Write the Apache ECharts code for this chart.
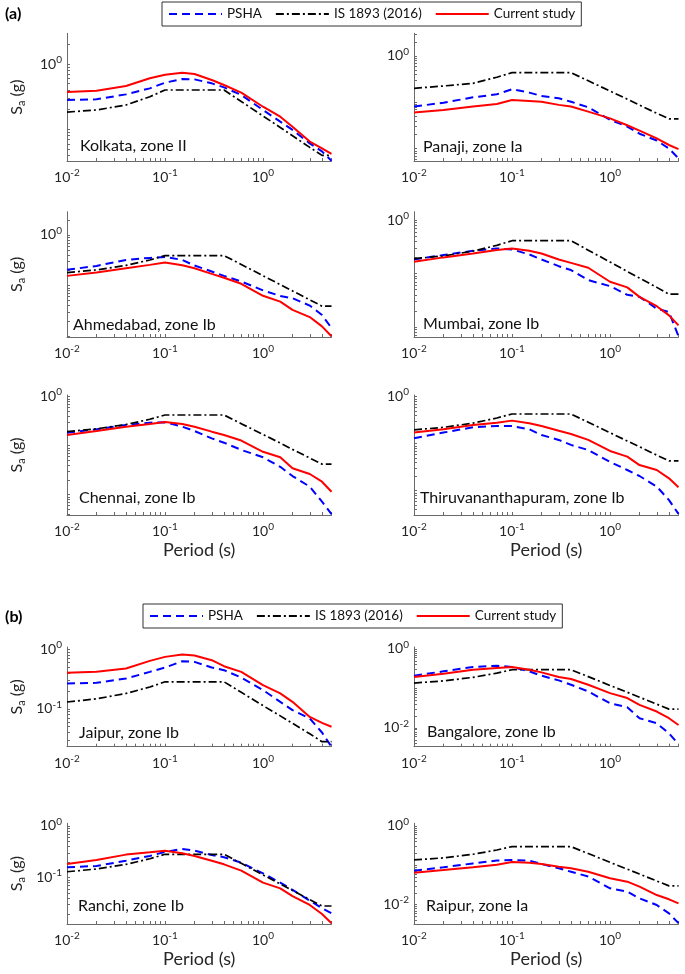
<!DOCTYPE html>
<html><head><meta charset="utf-8">
<script src="https://cdn.jsdelivr.net/npm/echarts@6/dist/echarts.min.js"></script>
<style>html,body{margin:0;padding:0;background:#fff}#c{width:685px;height:974px}</style>
</head><body><div id="c"></div>
<script>
// ---------------- data ----------------
const periods = [0.01, 0.02, 0.04, 0.07, 0.1, 0.15, 0.2, 0.3, 0.4, 0.6, 1, 1.5, 2, 3, 4, 5];
const seriesNames = ['PSHA', 'IS 1893 (2016)', 'Current study'];
const cityNames = ['Kolkata, zone II', 'Panaji, zone Ia', 'Ahmedabad, zone Ib', 'Mumbai, zone Ib',
  'Chennai, zone Ib', 'Thiruvananthapuram, zone Ib', 'Jaipur, zone Ib', 'Bangalore, zone Ib',
  'Ranchi, zone Ib', 'Raipur, zone Ia'];

const kolkataPSHA = [0.281, 0.288, 0.343, 0.424, 0.518, 0.589, 0.582, 0.506, 0.439, 0.336, 0.198, 0.131, 0.098, 0.061, 0.046, 0.033];
const kolkataIS = [0.184, 0.198, 0.236, 0.316, 0.400, 0.400, 0.400, 0.400, 0.400, 0.267, 0.160, 0.107, 0.080, 0.053, 0.040, 0.040];
const kolkataCurrent = [0.373, 0.391, 0.461, 0.604, 0.687, 0.737, 0.703, 0.569, 0.477, 0.364, 0.222, 0.156, 0.110, 0.065, 0.051, 0.042];

const panajiPSHA = [0.081, 0.098, 0.128, 0.149, 0.191, 0.162, 0.137, 0.122, 0.103, 0.078, 0.042, 0.030, 0.021, 0.015, 0.010, 0.0062];
const panajiIS = [0.200, 0.225, 0.257, 0.347, 0.437, 0.437, 0.437, 0.437, 0.437, 0.291, 0.175, 0.117, 0.087, 0.058, 0.044, 0.044];
const panajiCurrent = [0.060, 0.068, 0.081, 0.092, 0.112, 0.107, 0.103, 0.088, 0.081, 0.063, 0.045, 0.032, 0.0245, 0.0167, 0.012, 0.0098];

const ahmedabadPSHA = [0.204, 0.244, 0.321, 0.352, 0.368, 0.321, 0.248, 0.189, 0.155, 0.120, 0.080, 0.062, 0.056, 0.040, 0.026, 0.0144];
const ahmedabadIS = [0.180, 0.203, 0.250, 0.320, 0.391, 0.391, 0.391, 0.391, 0.391, 0.261, 0.156, 0.104, 0.078, 0.052, 0.039, 0.039];
const ahmedabadCurrent = [0.155, 0.181, 0.220, 0.256, 0.284, 0.252, 0.220, 0.170, 0.142, 0.108, 0.0625, 0.048, 0.033, 0.0237, 0.0155, 0.0099];

const mumbaiPSHA = [0.183, 0.221, 0.266, 0.294, 0.282, 0.227, 0.183, 0.137, 0.116, 0.075, 0.058, 0.040, 0.0365, 0.022, 0.019, 0.0067];
const mumbaiIS = [0.189, 0.213, 0.262, 0.336, 0.410, 0.410, 0.410, 0.410, 0.410, 0.273, 0.164, 0.109, 0.082, 0.055, 0.041, 0.041];
const mumbaiCurrent = [0.166, 0.200, 0.237, 0.274, 0.294, 0.266, 0.237, 0.183, 0.158, 0.128, 0.070, 0.055, 0.0365, 0.0244, 0.0165, 0.0107];

const chennaiPSHA = [0.184, 0.216, 0.264, 0.295, 0.299, 0.244, 0.199, 0.141, 0.115, 0.082, 0.058, 0.037, 0.024, 0.0146, 0.0072, 0.0040];
const chennaiIS = [0.194, 0.220, 0.270, 0.346, 0.422, 0.422, 0.422, 0.422, 0.422, 0.281, 0.169, 0.113, 0.084, 0.056, 0.042, 0.042];
const chennaiCurrent = [0.165, 0.199, 0.244, 0.277, 0.304, 0.277, 0.244, 0.193, 0.165, 0.127, 0.075, 0.058, 0.0345, 0.0264, 0.0184, 0.0115];

const tvmPSHA = [0.130, 0.172, 0.223, 0.238, 0.238, 0.202, 0.153, 0.120, 0.094, 0.073, 0.041, 0.0275, 0.0205, 0.0122, 0.0063, 0.0032];
const tvmIS = [0.197, 0.222, 0.274, 0.351, 0.428, 0.428, 0.428, 0.428, 0.428, 0.285, 0.171, 0.114, 0.086, 0.057, 0.043, 0.043];
const tvmCurrent = [0.172, 0.202, 0.250, 0.280, 0.309, 0.271, 0.238, 0.189, 0.161, 0.120, 0.070, 0.053, 0.035, 0.0275, 0.0183, 0.0118];

const jaipurPSHA = [0.266, 0.273, 0.322, 0.417, 0.493, 0.629, 0.613, 0.493, 0.445, 0.335, 0.206, 0.131, 0.095, 0.069, 0.040, 0.023];
const jaipurIS = [0.130, 0.147, 0.181, 0.232, 0.284, 0.284, 0.284, 0.284, 0.284, 0.189, 0.113, 0.076, 0.057, 0.038, 0.028, 0.028];
const jaipurCurrent = [0.401, 0.417, 0.474, 0.637, 0.744, 0.814, 0.783, 0.654, 0.519, 0.417, 0.249, 0.181, 0.131, 0.073, 0.058, 0.050];

const bangalorePSHA = [0.210, 0.271, 0.349, 0.377, 0.349, 0.271, 0.210, 0.160, 0.124, 0.084, 0.042, 0.0335, 0.0176, 0.0131, 0.0073, 0.0039];
const bangaloreIS = [0.137, 0.155, 0.191, 0.244, 0.298, 0.298, 0.298, 0.298, 0.298, 0.199, 0.119, 0.080, 0.060, 0.040, 0.030, 0.030];
const bangaloreCurrent = [0.194, 0.236, 0.299, 0.329, 0.349, 0.299, 0.255, 0.194, 0.173, 0.124, 0.076, 0.057, 0.0385, 0.026, 0.0176, 0.0119];

const ranchiPSHA = [0.159, 0.168, 0.213, 0.263, 0.314, 0.359, 0.333, 0.275, 0.248, 0.195, 0.121, 0.080, 0.058, 0.036, 0.0255, 0.0204];
const ranchiIS = [0.130, 0.147, 0.181, 0.232, 0.283, 0.283, 0.283, 0.283, 0.283, 0.189, 0.113, 0.0755, 0.0566, 0.0377, 0.0283, 0.0283];
const ranchiCurrent = [0.184, 0.220, 0.279, 0.309, 0.333, 0.296, 0.263, 0.213, 0.181, 0.137, 0.080, 0.062, 0.044, 0.0296, 0.0198, 0.0131];

const raipurPSHA = [0.073, 0.089, 0.112, 0.132, 0.137, 0.132, 0.108, 0.084, 0.069, 0.052, 0.026, 0.0214, 0.0145, 0.0098, 0.0060, 0.0034];
const raipurIS = [0.137, 0.155, 0.191, 0.245, 0.299, 0.299, 0.299, 0.299, 0.299, 0.199, 0.119, 0.080, 0.060, 0.040, 0.030, 0.030];
const raipurCurrent = [0.065, 0.076, 0.089, 0.104, 0.122, 0.117, 0.108, 0.0925, 0.084, 0.069, 0.047, 0.0385, 0.0287, 0.0176, 0.0137, 0.0108];

// tick labels (decade exponents shown)
const xTickExponents = [-2, -1, 0];
const yTickExponents = [[0], [0], [0], [0], [0], [0], [0, -1], [0, -2], [0, -1], [0, -2]];

// ---------------- layout / style ----------------
const FONT = 'Lato, "Open Sans", sans-serif';
const TXT = '#262626';
const AX = '#6a6a6a';
const COLORS = ['#0000ff', '#000000', '#ff0000'];
const LINE_TYPES = [[8, 5], [8, 3, 2, 3], 'solid'];
const LINE_W = [2, 1.7, 2];
const colLeft = [67, 414];
const plotW = 264.5;
const rows = [
  { top: 33.3, h: 127.7 }, { top: 211.7, h: 125.3 }, { top: 395, h: 120 },
  { top: 647, h: 99.7 }, { top: 823.3, h: 100.7 }
];
const panels = [
  { d: [kolkataPSHA, kolkataIS, kolkataCurrent], col: 0, row: 0, y: [0.0328, 2.95], lab: [80, 146] },
  { d: [panajiPSHA, panajiIS, panajiCurrent], col: 1, row: 0, y: [0.00542, 3.08], lab: [423, 147] },
  { d: [ahmedabadPSHA, ahmedabadIS, ahmedabadCurrent], col: 0, row: 1, y: [0.00955, 2.89], lab: [73, 325] },
  { d: [mumbaiPSHA, mumbaiIS, mumbaiCurrent], col: 1, row: 1, y: [0.00649, 1.43], lab: [423, 324] },
  { d: [chennaiPSHA, chennaiIS, chennaiCurrent], col: 0, row: 2, y: [0.00385, 1.08], lab: [79, 498] },
  { d: [tvmPSHA, tvmIS, tvmCurrent], col: 1, row: 2, y: [0.00303, 1.085], lab: [420, 498] },
  { d: [jaipurPSHA, jaipurIS, jaipurCurrent], col: 0, row: 3, y: [0.0231, 1.09], lab: [79, 733] },
  { d: [bangalorePSHA, bangaloreIS, bangaloreCurrent], col: 1, row: 3, y: [0.00335, 1.12], lab: [427, 732] },
  { d: [ranchiPSHA, ranchiIS, ranchiCurrent], col: 0, row: 4, y: [0.01268, 1.126], lab: [78, 906] },
  { d: [raipurPSHA, raipurIS, raipurCurrent], col: 1, row: 4, y: [0.00323, 1.17], lab: [426, 906] }
];

const minorTicks = [];
for (let e = -3; e <= 0; e++) for (let k = 1; k <= 9; k++) minorTicks.push(+(k * Math.pow(10, e)).toPrecision(3));

const supRich = {
  b: { fontSize: 14, fontFamily: FONT, color: TXT },
  e: { fontSize: 10, fontFamily: FONT, color: TXT, padding: [0, 0, 9, 0] }
};
function powLabel(allowed) {
  return function (v) {
    const l = Math.log10(v), e = Math.round(l);
    if (Math.abs(l - e) > 1e-6 || allowed.indexOf(e) < 0) return '';
    return '{b|10}{e|' + e + '}';
  };
}

const grid = [], xAxis = [], yAxis = [], series = [], graphic = [];
panels.forEach((p, i) => {
  grid.push({ left: colLeft[p.col], top: rows[p.row].top, width: plotW, height: rows[p.row].h, outerBoundsMode: 'none' });
  const showXName = (p.row === 2 || p.row === 4);
  xAxis.push({
    type: 'log', logBase: 10, gridIndex: i, min: 0.01, max: 5,
    axisLine: { show: true, lineStyle: { color: AX, width: 1 } },
    axisTick: { show: true, inside: true, length: 3, customValues: minorTicks, lineStyle: { color: AX } },
    axisLabel: { formatter: powLabel(xTickExponents), rich: supRich, margin: 7, color: TXT },
    splitLine: { show: false },
    name: showXName ? 'Period (s)' : '', nameLocation: 'middle', nameGap: 26,
    nameTextStyle: { fontSize: 18, fontFamily: FONT, color: TXT }
  });
  yAxis.push({
    type: 'log', logBase: 10, gridIndex: i, min: p.y[0], max: p.y[1],
    axisLine: { show: true, lineStyle: { color: AX, width: 1 } },
    axisTick: { show: true, inside: true, length: 3, customValues: minorTicks, lineStyle: { color: AX } },
    axisLabel: { formatter: powLabel(yTickExponents[i]), rich: supRich, margin: 5, color: TXT },
    splitLine: { show: false },
    name: p.col === 0 ? '{s|S}{a|a}{s| (g)}' : '', nameLocation: 'middle', nameRotate: 90, nameGap: 40,
    nameTextStyle: {
      rich: {
        s: { fontSize: 16, fontFamily: FONT, color: TXT },
        a: { fontSize: 11, fontFamily: FONT, color: TXT, padding: [9, 0, 0, 0] }
      }
    }
  });
  p.d.forEach((arr, k) => {
    series.push({
      name: seriesNames[k], type: 'line', xAxisIndex: i, yAxisIndex: i,
      symbol: 'none', smooth: false, z: 2 + k,
      lineStyle: { color: COLORS[k], width: LINE_W[k], type: LINE_TYPES[k] },
      itemStyle: { color: COLORS[k] },
      data: periods.map((t, j) => [t, arr[j]])
    });
  });
  graphic.push({
    type: 'text', x: p.lab[0], y: p.lab[1],
    style: { text: cityNames[i], font: '16px ' + FONT, fill: '#111', textVerticalAlign: 'middle', verticalAlign: 'middle' }
  });
});
graphic.push({ type: 'text', x: 5, y: 14, style: { text: '(a)', font: 'bold 16px ' + FONT, fill: '#000', textVerticalAlign: 'middle', verticalAlign: 'middle' } });
graphic.push({ type: 'text', x: 5, y: 617, style: { text: '(b)', font: 'bold 16px ' + FONT, fill: '#000', textVerticalAlign: 'middle', verticalAlign: 'middle' } });

function makeLegend(left, top) {
  return {
    data: seriesNames, left: left, top: top, orient: 'horizontal',
    itemWidth: 53, itemHeight: 12, itemGap: 13, padding: [5, 6],
    borderColor: '#333', borderWidth: 1, backgroundColor: '#fff',
    itemStyle: { color: 'rgba(0,0,0,0)', borderWidth: 0, opacity: 0 },
    textStyle: { fontSize: 13.5, fontFamily: FONT, color: '#111' },
    selectedMode: false
  };
}

const chart = echarts.init(document.getElementById('c'), null, { renderer: 'canvas' });
chart.setOption({
  animation: false,
  backgroundColor: '#fff',
  legend: [makeLegend(162, 2), makeLegend(143, 604)],
  grid: grid, xAxis: xAxis, yAxis: yAxis, series: series, graphic: graphic
});
</script></body></html>
